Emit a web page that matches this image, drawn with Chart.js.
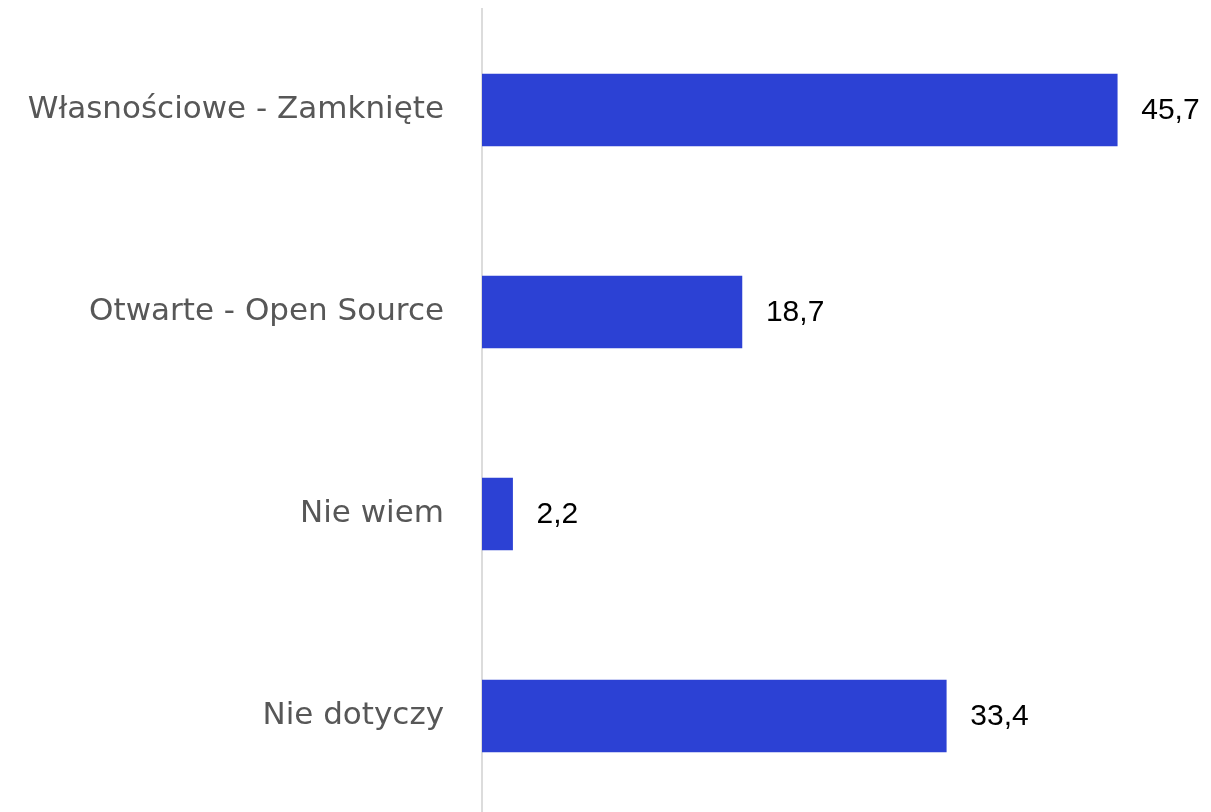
<!DOCTYPE html>
<html>
<head>
<meta charset="utf-8">
<script src="https://cdn.jsdelivr.net/npm/chart.js@4.4.1/dist/chart.umd.min.js"></script>
<style>
    html, body { margin: 0; padding: 0; background: #fff; overflow: hidden; }
    .wrap { position: relative; width: 1211px; height: 817px; }
</style>
</head>
<body>
<div class="wrap"><canvas id="barChart"></canvas></div>
<script>
// Chart data
const categories = ['Własnościowe - Zamknięte', 'Otwarte - Open Source', 'Nie wiem', 'Nie dotyczy'];
const values = [45.7, 18.7, 2.2, 33.4];
const xMax = 50;

// Value labels at the end of each bar
const valueLabels = {
    id: 'valueLabels',
    afterDatasetsDraw(chart) {
        const ctx = chart.ctx;
        const meta = chart.getDatasetMeta(0);
        ctx.save();
        ctx.font = '30px "Liberation Sans", Arial, sans-serif';
        ctx.fillStyle = '#000';
        ctx.textAlign = 'left';
        ctx.textBaseline = 'middle';
        meta.data.forEach((bar, i) => {
            const text = String(values[i]).replace('.', ',');
            ctx.fillText(text, bar.x + 24, bar.y + 1);
        });
        ctx.restore();
    }
};

const ctx = document.getElementById('barChart').getContext('2d');
new Chart(ctx, {
    type: 'bar',
    data: {
        labels: categories,
        datasets: [{
            data: values,
            backgroundColor: '#2c41d4',
            barThickness: 72
        }]
    },
    options: {
        indexAxis: 'y',
        responsive: true,
        maintainAspectRatio: false,
        animation: false,
        layout: {
            padding: { top: 9, right: 34, bottom: 0, left: 0 }
        },
        plugins: {
            legend: { display: false },
            tooltip: { enabled: false }
        },
        scales: {
            x: {
                display: false,
                min: 0,
                max: xMax
            },
            y: {
                grid: { display: false, drawTicks: false },
                border: { display: true, color: '#dcdcdc', width: 2 },
                ticks: {
                    color: '#575757',
                    padding: 38,
                    font: { family: '"DejaVu Sans", sans-serif', size: 31 }
                },
                afterFit: scale => {
                    scale.width = 482;
                    // keep the tick padding from pushing the plot down
                    scale.paddingTop = 0;
                    scale.paddingBottom = 0;
                }
            }
        }
    },
    plugins: [valueLabels]
});
</script>
</body>
</html>
